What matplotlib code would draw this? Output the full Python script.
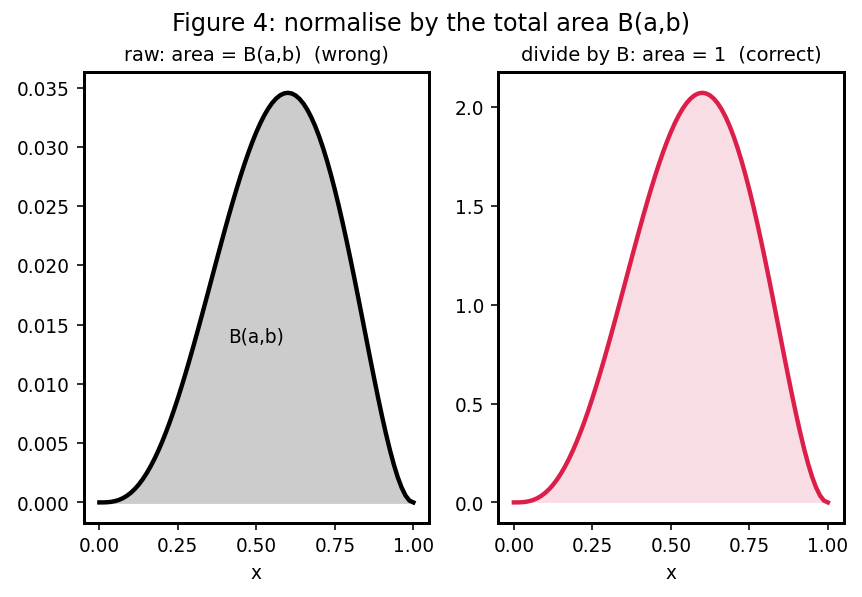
import numpy as np
import matplotlib
matplotlib.use("Agg")
import matplotlib.pyplot as plt

# x grid and unnormalised curve x^(a-1)(1-x)^(b-1)
x = np.linspace(0, 1, 81)
raw = [0.0, 1.905e-6, 1.485e-5, 4.885e-5, 1.128e-4, 2.1458e-4, 3.610e-4,
       5.578e-4, 8.100e-4, 0.0011215, 0.0014954, 0.0019339, 0.0024384,
       0.0030097, 0.0036477, 0.0043516, 0.00512, 0.0059508, 0.0068415,
       0.0077888, 0.0087891, 0.0098381, 0.0109313, 0.0120638, 0.01323,
       0.0144243, 0.0156407, 0.0168731, 0.0181147, 0.0193591, 0.0205994,
       0.0218287, 0.02304, 0.0242263, 0.0253806, 0.026496, 0.0275653,
       0.028582, 0.0295393, 0.0304306, 0.03125, 0.0319913, 0.0326486,
       0.0332168, 0.0336909, 0.0340662, 0.0343385, 0.0345041, 0.03456,
       0.0345033, 0.0343323, 0.0340453, 0.0336416, 0.0331211, 0.0324847,
       0.0317335, 0.03087, 0.0298971, 0.028819, 0.0276404, 0.0263672,
       0.0250062, 0.0235651, 0.0220531, 0.02048, 0.018857, 0.0171964,
       0.0155118, 0.0138178, 0.0121306, 0.0104675, 0.0088473, 0.00729,
       0.0058172, 0.0044519, 0.0032187, 0.0021434, 0.0012539, 0.0005793,
       0.0001505, 0.0]
raw = np.array(raw)

# total area B(a,b) and the normalised density
B_ab = 0.0166667
dens = raw / B_ab

red = "#dc1f4a"
plt.rcParams["font.size"] = 9.25

fig, (ax1, ax2) = plt.subplots(1, 2, figsize=(5.99, 4.15), dpi=144)
fig.subplots_adjust(left=0.097, right=0.978, top=0.878, bottom=0.124, wspace=0.2)

ax1.fill_between(x, raw, color="0.8")
ax1.plot(x, raw, color="black", lw=2.2, solid_joinstyle="round")
ax1.text(0.5, 0.014, "B(a,b)", ha="center", va="center")
ax1.set_title("raw: area = B(a,b)  (wrong)", fontsize=9.7)
ax1.set_xlabel("x")
ax1.set_xticks([0, 0.25, 0.5, 0.75, 1.0])

ax2.fill_between(x, dens, color=red, alpha=0.15, lw=0)
ax2.plot(x, dens, color=red, lw=2.2, solid_joinstyle="round")
ax2.set_title("divide by B: area = 1  (correct)", fontsize=9.7)
ax2.set_xlabel("x")
ax2.set_xticks([0, 0.25, 0.5, 0.75, 1.0])

for ax in (ax1, ax2):
    for s in ax.spines.values():
        s.set_linewidth(1.5)

fig.suptitle("Figure 4: normalise by the total area B(a,b)", fontsize=12)
fig.savefig("out.png", dpi=144)
